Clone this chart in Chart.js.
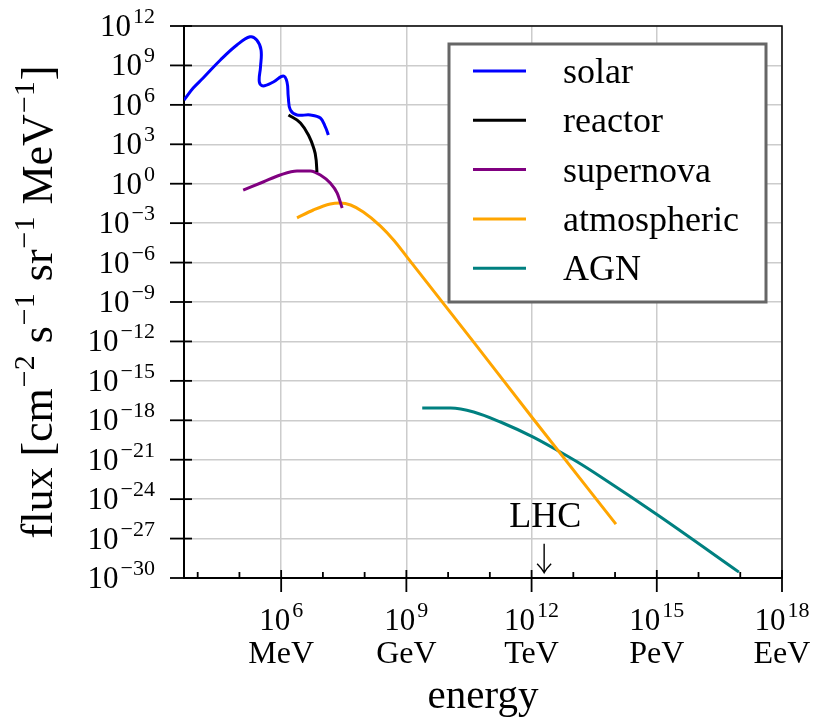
<!DOCTYPE html>
<html>
<head>
<meta charset="utf-8">
<title>Neutrino flux</title>
<script src="https://cdn.jsdelivr.net/npm/chart.js@4.4.1/dist/chart.umd.min.js"></script>
<style>
  html, body { margin: 0; padding: 0; background: #fff; }
  #wrap { width: 813px; height: 726px; position: relative; }
</style>
</head>
<body>
<div id="wrap"><canvas id="chart"></canvas></div>
<script>
// energy in MeV, flux in cm^-2 s^-1 sr^-1 MeV^-1
const solarEnergy = [4.7e3, 7.8e3, 1.35e4, 3.5e4, 8.7e4, 1.8e5, 2.6e5, 3.3e5, 3.2e5, 3.0e5, 3.7e5, 6.5e5, 1.12e6, 1.38e6, 1.48e6, 1.66e6, 2.4e6, 5.0e6, 8.7e6, 1.15e7, 1.35e7];
const solarFlux = [2.3e6, 1.9e7, 1.1e8, 2.6e9, 3.6e10, 1.5e11, 8.7e10, 1.5e10, 7.6e8, 5.5e7, 2.75e7, 5.5e7, 1.6e8, 5.5e7, 4e6, 4.1e5, 1.7e5, 1.7e5, 1.0e5, 2.0e4, 5.1e3];

const reactorEnergy = [1.5e6, 2.9e6, 4.5e6, 5.9e6, 6.9e6, 7.2e6];
const reactorFlux = [1.7e5, 4.2e4, 5.1e3, 6.2e2, 63, 7.8];

const supernovaEnergy = [1.23e5, 3.7e5, 9.5e5, 2.4e6, 5.0e6, 8.7e6, 1.5e7, 2.2e7, 2.9e7];
const supernovaFlux = [0.33, 1.35, 4.6, 9.3, 9.3, 4.6, 1.12, 0.19, 0.014];

const atmosEnergy = [2.4e6, 5.9e6, 1.5e7, 2.6e7, 4.6e7, 9.3e7, 2.4e8, 5.0e8, 1.05e9, 4.1e10, 1.1e12, 1.05e14];
const atmosFlux = [2.5e-3, 1e-2, 2.9e-2, 3.4e-2, 2.4e-2, 7.1e-3, 6e-4, 5.0e-5, 2.5e-6, 8.9e-13, 1.26e-18, 1.26e-26];

const agnEnergy = [2.4e9, 1.15e10, 4.1e10, 1.8e11, 1.1e12, 4.2e12, 1.26e13, 4.6e13, 1.05e15, 9.3e16];
const agnFlux = [8.5e-18, 8.5e-18, 4.3e-18, 7.4e-19, 5.2e-20, 5.0e-21, 6.6e-22, 4.8e-23, 6.2e-26, 2.8e-30];

const seriesNames = ['solar', 'reactor', 'supernova', 'atmospheric', 'AGN'];
const seriesColors = ['#0000ff', '#000000', '#800080', '#ffa500', '#008080'];

// ticks
const xTickExps = [4, 5, 6, 7, 8, 9, 10, 11, 12, 13, 14, 15, 16, 17, 18];
const xMajorExps = [6, 9, 12, 15, 18];
const xUnitLabels = ['MeV', 'GeV', 'TeV', 'PeV', 'EeV'];
const yTickExps = [12, 9, 6, 3, 0, -3, -6, -9, -12, -15, -18, -21, -24, -27, -30];

// LHC marker: energy, flux of label baseline, arrow start and tip
const lhcEnergy = 2e12;
const lhcLabelFlux = 1e-26;
const lhcArrowFlux = [4e-28, 2.5e-30];

const FONT = '"Liberation Serif", "DejaVu Serif", serif';

function toPoints(xs, ys) {
  return xs.map((x, i) => ({ x: x, y: ys[i] }));
}

function supStr(e) {
  return String(e).replace('-', '\u2212');
}

// draws 10^e with a raised exponent
function drawPow(ctx, e, x, y, align, baseSize, expSize) {
  ctx.font = baseSize + 'px ' + FONT;
  const wb = ctx.measureText('10').width;
  ctx.font = expSize + 'px ' + FONT;
  const we = ctx.measureText(supStr(e)).width;
  let left = x;
  if (align === 'right') left = x - wb - we - 2;
  if (align === 'center') left = x - (wb + we + 2) / 2;
  ctx.textAlign = 'left';
  ctx.textBaseline = 'alphabetic';
  ctx.font = baseSize + 'px ' + FONT;
  ctx.fillText('10', left, y);
  ctx.font = expSize + 'px ' + FONT;
  ctx.fillText(supStr(e), left + wb + 2, y - 13);
}

const decorPlugin = {
  id: 'decor',
  afterDraw(chart) {
    const ctx = chart.ctx;
    const area = chart.chartArea;
    const xs = chart.scales.x;
    const ys = chart.scales.y;
    ctx.save();
    ctx.fillStyle = '#000';
    ctx.strokeStyle = '#000';

    // top and right frame
    ctx.lineWidth = 1.5;
    ctx.beginPath();
    ctx.moveTo(area.left, area.top);
    ctx.lineTo(area.right, area.top);
    ctx.lineTo(area.right, area.bottom);
    ctx.stroke();

    // y ticks and labels
    ctx.lineWidth = 1.8;
    yTickExps.forEach(e => {
      const py = ys.getPixelForValue(Math.pow(10, e));
      ctx.beginPath();
      ctx.moveTo(area.left - 14, py);
      ctx.lineTo(area.left + 8, py);
      ctx.stroke();
      drawPow(ctx, e, area.left - 29, py + 10, 'right', 31, 22);
    });

    // x ticks and labels
    xTickExps.forEach(e => {
      const px = xs.getPixelForValue(Math.pow(10, e));
      const major = xMajorExps.includes(e);
      ctx.beginPath();
      if (major) {
        ctx.moveTo(px, area.bottom - 8);
        ctx.lineTo(px, area.bottom + 14);
      } else {
        ctx.moveTo(px, area.bottom - 6);
        ctx.lineTo(px, area.bottom);
      }
      ctx.stroke();
      if (major) {
        drawPow(ctx, e, px, area.bottom + 52, 'center', 31, 22);
        ctx.font = '32px ' + FONT;
        ctx.textAlign = 'center';
        ctx.fillText(xUnitLabels[xMajorExps.indexOf(e)], px, area.bottom + 85);
      }
    });

    // x title
    ctx.font = '41px ' + FONT;
    ctx.textAlign = 'center';
    ctx.fillText('energy', (area.left + area.right) / 2, 708);

    // y title with superscripts, rotated
    const parts = [
      ['flux [cm', false], ['\u22122', true], [' s', false], ['\u22121', true],
      [' sr', false], ['\u22121', true], [' MeV', false], ['\u22121', true], [']', false]
    ];
    let total = 0;
    parts.forEach(p => {
      ctx.font = (p[1] ? 30 : 44) + 'px ' + FONT;
      total += ctx.measureText(p[0]).width + (p[1] ? 2 : 0);
    });
    ctx.save();
    ctx.translate(52, (area.top + area.bottom) / 2);
    ctx.rotate(-Math.PI / 2);
    ctx.textAlign = 'left';
    let cx = -total / 2;
    parts.forEach(p => {
      ctx.font = (p[1] ? 30 : 44) + 'px ' + FONT;
      if (p[1]) {
        ctx.fillText(p[0], cx + 1, -18);
        cx += ctx.measureText(p[0]).width + 2;
      } else {
        ctx.fillText(p[0], cx, 0);
        cx += ctx.measureText(p[0]).width;
      }
    });
    ctx.restore();

    // LHC annotation
    const lx = xs.getPixelForValue(lhcEnergy);
    ctx.font = '36px ' + FONT;
    ctx.textAlign = 'center';
    ctx.fillText('LHC', lx + 1, ys.getPixelForValue(lhcLabelFlux) + 2);
    const a0 = ys.getPixelForValue(lhcArrowFlux[0]);
    const a1 = ys.getPixelForValue(lhcArrowFlux[1]);
    ctx.lineWidth = 1.4;
    ctx.beginPath();
    ctx.moveTo(lx, a0);
    ctx.lineTo(lx, a1);
    ctx.moveTo(lx - 7, a1 - 9);
    ctx.quadraticCurveTo(lx - 2, a1 - 4, lx, a1);
    ctx.quadraticCurveTo(lx + 2, a1 - 4, lx + 7, a1 - 9);
    ctx.stroke();

    // legend box
    const bx = area.right - 333, by = area.top + 18, bw = 317, bh = 258;
    ctx.fillStyle = '#fff';
    ctx.fillRect(bx, by, bw, bh);
    ctx.strokeStyle = '#666';
    ctx.lineWidth = 3;
    ctx.strokeRect(bx, by, bw, bh);
    ctx.font = '36px ' + FONT;
    ctx.textAlign = 'left';
    seriesNames.forEach((name, i) => {
      const ly = by + 27 + i * 49.3;
      ctx.strokeStyle = seriesColors[i];
      ctx.lineWidth = 3;
      ctx.beginPath();
      ctx.moveTo(bx + 24, ly);
      ctx.lineTo(bx + 77, ly);
      ctx.stroke();
      ctx.fillStyle = '#000';
      ctx.fillText(name, bx + 114, ly + 12);
    });
    ctx.restore();
  }
};

const energies = [solarEnergy, reactorEnergy, supernovaEnergy, atmosEnergy, agnEnergy];
const fluxes = [solarFlux, reactorFlux, supernovaFlux, atmosFlux, agnFlux];

const datasets = seriesNames.map((name, i) => ({
  label: name,
  data: toPoints(energies[i], fluxes[i]),
  borderColor: seriesColors[i],
  backgroundColor: seriesColors[i],
  borderWidth: 3,
  pointRadius: 0,
  // solar doubles back in energy, the others are monotone in x
  tension: i === 0 ? 0.4 : 0,
  cubicInterpolationMode: i === 0 ? 'default' : 'monotone',
  fill: false
}));

new Chart(document.getElementById('chart'), {
  type: 'line',
  data: { datasets: datasets },
  options: {
    responsive: true,
    maintainAspectRatio: false,
    animation: false,
    layout: { padding: { top: 26, right: 31, left: 0, bottom: 0 } },
    plugins: {
      legend: { display: false },
      tooltip: { enabled: false }
    },
    scales: {
      x: {
        type: 'logarithmic',
        min: 4.7e3,
        max: 1e18,
        afterBuildTicks: s => { s.ticks = xTickExps.map(e => ({ value: Math.pow(10, e) })); },
        afterFit: s => { s.height = 148; },
        ticks: { display: false },
        grid: {
          drawTicks: false,
          lineWidth: 1.5,
          color: c => (c.tick && xMajorExps.includes(Math.round(Math.log10(c.tick.value)))) ? '#cccccc' : 'rgba(0,0,0,0)'
        },
        border: { display: true, color: '#000', width: 2 }
      },
      y: {
        type: 'logarithmic',
        min: 1e-30,
        max: 1e12,
        afterBuildTicks: s => { s.ticks = yTickExps.map(e => ({ value: Math.pow(10, e) })); },
        afterFit: s => { s.width = 184; },
        ticks: { display: false },
        grid: { drawTicks: false, lineWidth: 1.5, color: '#cccccc' },
        border: { display: true, color: '#000', width: 2 }
      }
    }
  },
  plugins: [decorPlugin]
});
</script>
</body>
</html>
